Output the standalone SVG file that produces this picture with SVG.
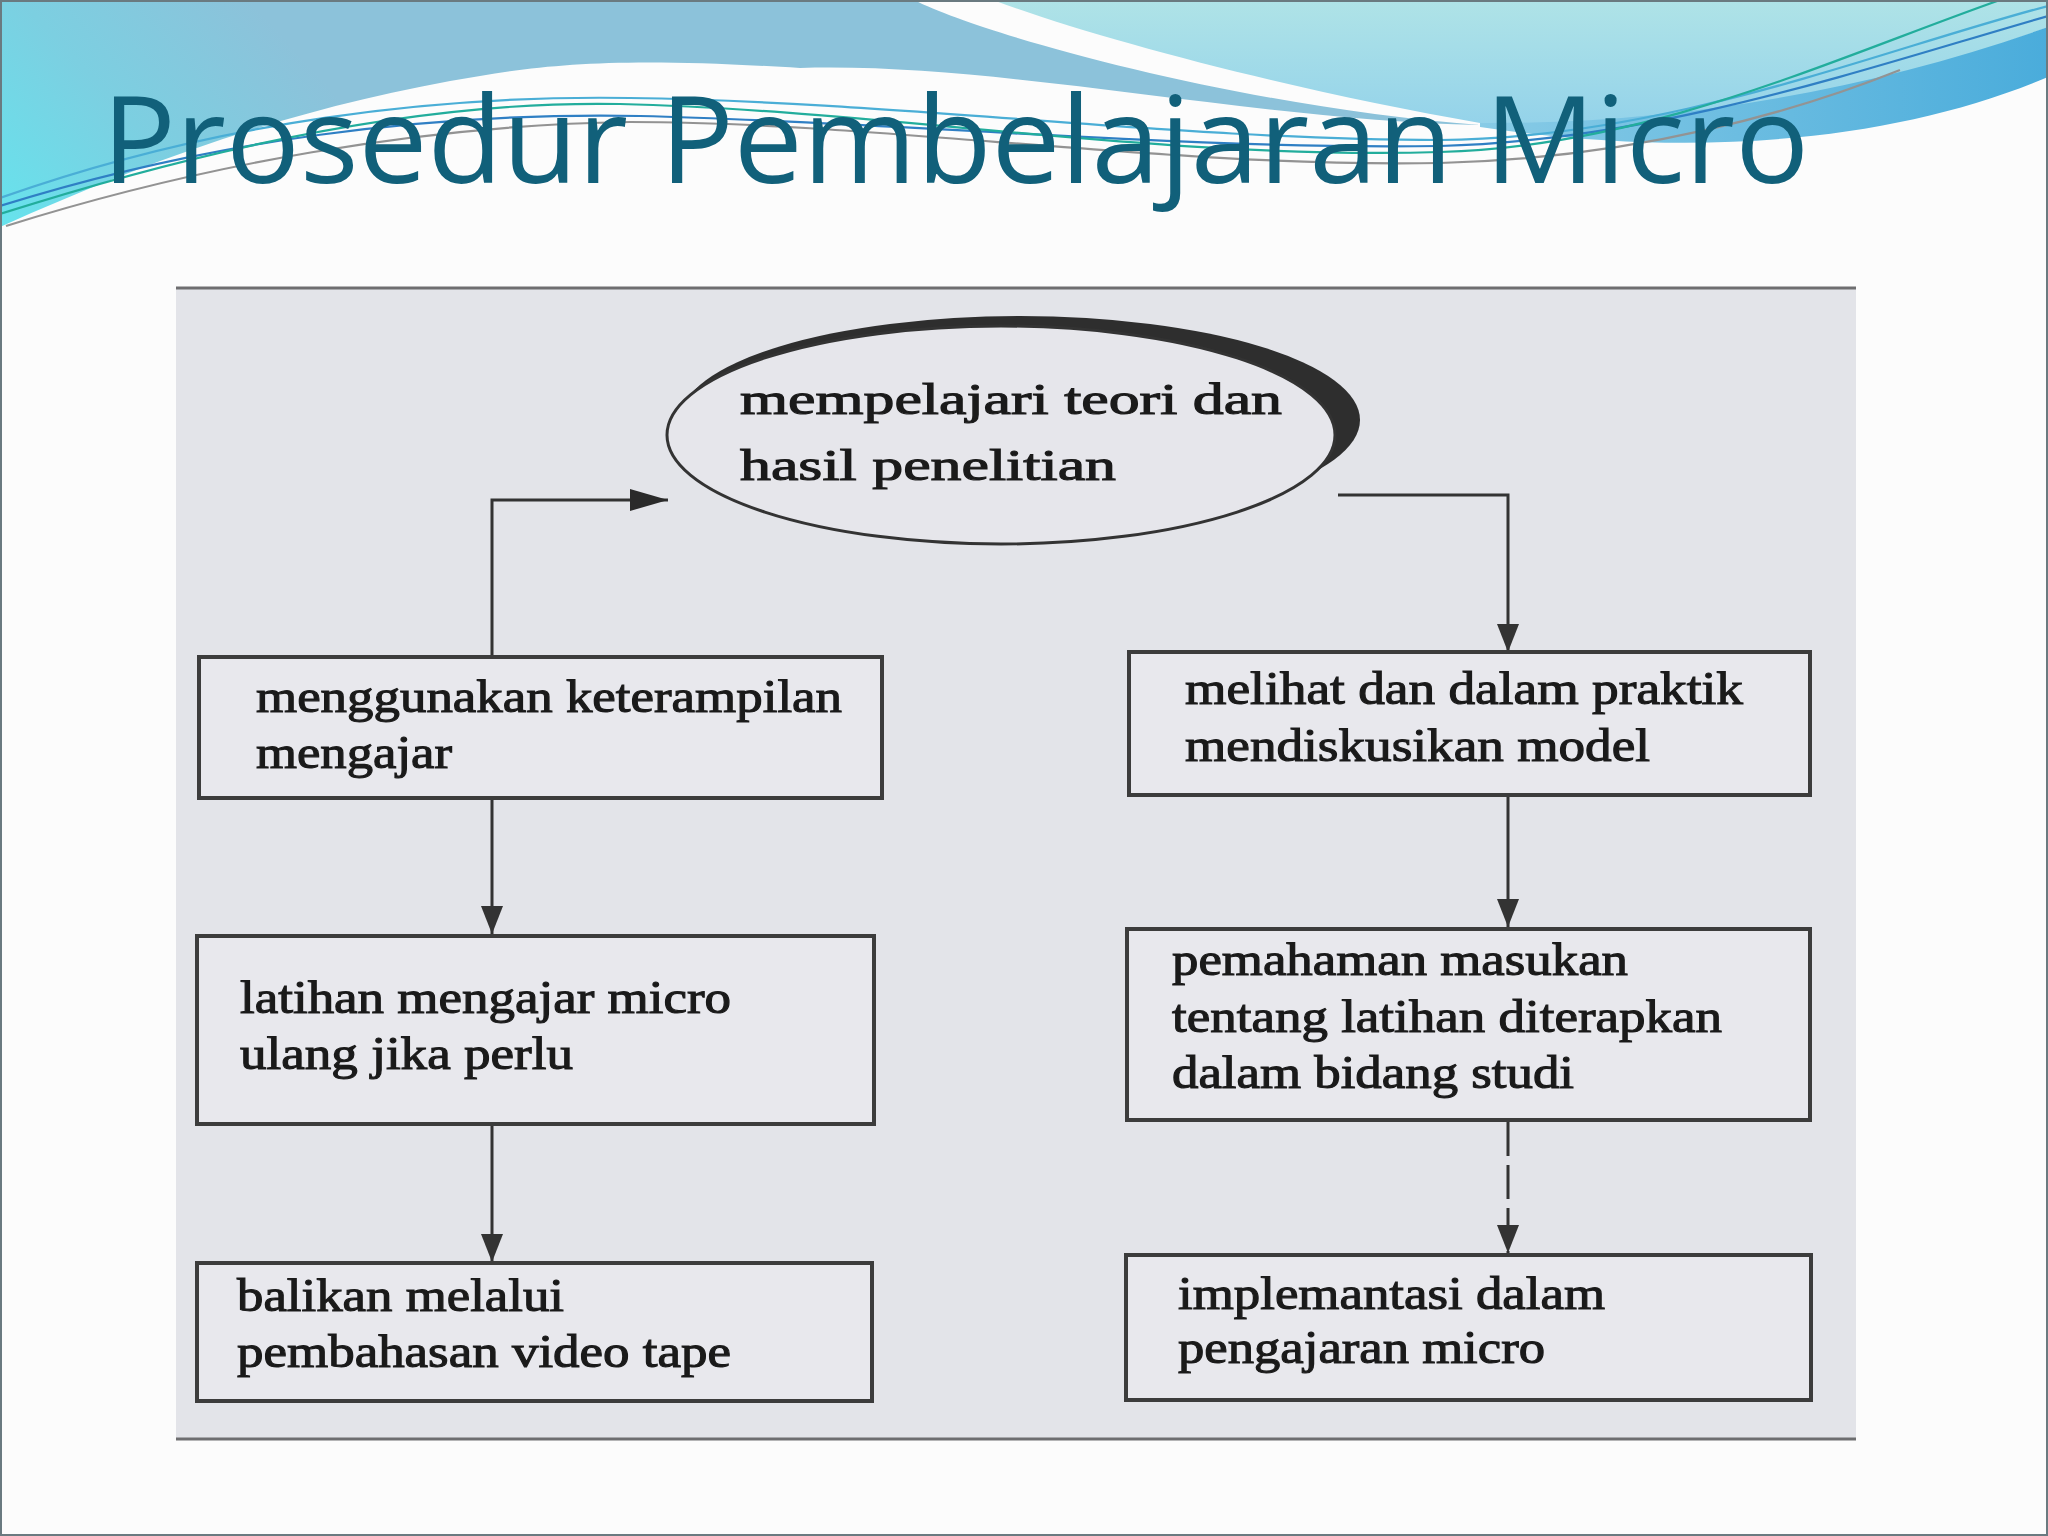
<svg xmlns="http://www.w3.org/2000/svg" width="2048" height="1536" viewBox="0 0 2048 1536">
<defs>
<linearGradient id="gTL" gradientUnits="userSpaceOnUse" x1="250" y1="0" x2="0" y2="228">
<stop offset="0" stop-color="#8cc2da"/>
<stop offset="0.5" stop-color="#7ccfe1"/>
<stop offset="1" stop-color="#66e3ed"/>
</linearGradient>
<linearGradient id="gCy" gradientUnits="userSpaceOnUse" x1="0" y1="0" x2="0" y2="130">
<stop offset="0" stop-color="#afe3e7"/>
<stop offset="1" stop-color="#93d2ea"/>
</linearGradient>
<linearGradient id="gBand" gradientUnits="userSpaceOnUse" x1="1480" y1="0" x2="2048" y2="0">
<stop offset="0" stop-color="#88cbe6"/>
<stop offset="1" stop-color="#4aacdb"/>
</linearGradient>
<marker id="arrV" viewBox="0 0 28 22" refX="28" refY="11" markerWidth="28" markerHeight="22" markerUnits="userSpaceOnUse" orient="auto">
<path d="M0,0 L28,11 L0,22 Z" fill="#333"/>
</marker>
<marker id="arrH" viewBox="0 0 38 22" refX="38" refY="11" markerWidth="38" markerHeight="22" markerUnits="userSpaceOnUse" orient="auto">
<path d="M0,0 L38,11 L0,22 Z" fill="#2a2a2a"/>
</marker>
</defs>
<style>
.box{fill:#e8e8ed;stroke:#3c3c3c;stroke-width:4}
.lbl{font-family:"Liberation Serif","Times New Roman",serif;font-size:46px;fill:#1a1a1a;stroke:#1a1a1a;stroke-width:1.1}
.conn{fill:none;stroke:#333;stroke-width:3}
.wave{fill:none;stroke-width:2.2}
</style>

<rect x="0" y="0" width="2048" height="1536" fill="#fcfcfc"/>

<g id="header">
<path d="M0,0 H914 C990,38 1250,108 1480,125 C1250,120 1000,62 800,68 C640,58 560,62 480,76 C300,105 150,160 0,227 Z" fill="url(#gTL)"/>
<path d="M993,0 H2048 V27 C1880,90 1700,128 1480,123 C1300,92 1100,40 993,0 Z" fill="url(#gCy)"/>
<path d="M1480,123 C1680,124 1870,90 2048,27 V77 C1900,140 1700,160 1480,127 Z" fill="url(#gBand)"/>
<path class="wave" stroke="#4aaed6" d="M0,198 C220,120 440,95 630,98 C900,102 1180,140 1440,140 C1670,138 1880,50 2048,6"/>
<path class="wave" stroke="#2f7fc4" d="M0,206 C210,140 430,112 640,116 C900,122 1180,150 1440,146 C1660,140 1860,70 2048,16"/>
<path class="wave" stroke="#22ad9c" d="M0,214 C200,150 420,100 620,104 C880,110 1160,160 1440,152 C1650,146 1830,60 2000,0"/>
<path class="wave" stroke="#939393" d="M6,226 C200,165 420,125 630,122 C880,122 1170,168 1440,163 C1640,158 1800,110 1900,70"/>
<text x="102" y="183" font-family="'Open Sans','Noto Sans','DejaVu Sans',sans-serif" font-size="120" fill="#11607a" textLength="1707" lengthAdjust="spacingAndGlyphs">Prosedur Pembelajaran Micro</text>
</g>

<g id="panel">
<rect x="176" y="287" width="1680" height="1152" fill="#e3e4e9"/>
<line x1="176" y1="288" x2="1856" y2="288" stroke="#6e6e70" stroke-width="3"/>
<line x1="176" y1="1439" x2="1856" y2="1439" stroke="#6e6e70" stroke-width="3"/>
</g>

<g id="connectors">
<path class="conn" d="M492,655 V500 H668" marker-end="url(#arrH)"/>
<path class="conn" d="M1338,495 H1508 V652" stroke-width="3.5" marker-end="url(#arrV)"/>
<path class="conn" d="M492,800 V934" marker-end="url(#arrV)"/>
<path class="conn" d="M492,1126 V1262" marker-end="url(#arrV)"/>
<path class="conn" d="M1508,797 V927" marker-end="url(#arrV)"/>
<path class="conn" d="M1508,1122 V1253" stroke-dasharray="34 9" marker-end="url(#arrV)"/>
</g>

<g id="n0">
<ellipse cx="1020" cy="420" rx="340" ry="104" fill="#2e2e2e"/>
<ellipse cx="1001" cy="435" rx="334" ry="109" fill="#e6e6eb" stroke="#333" stroke-width="3"/>
<text class="lbl" style="font-size:44px" x="740" y="414" textLength="542" lengthAdjust="spacingAndGlyphs">mempelajari teori dan</text>
<text class="lbl" style="font-size:44px" x="740" y="480" textLength="376" lengthAdjust="spacingAndGlyphs">hasil penelitian</text>
</g>

<g id="n1">
<rect class="box" x="199" y="657" width="683" height="141"/>
<text class="lbl" x="256" y="712" textLength="586" lengthAdjust="spacingAndGlyphs">menggunakan keterampilan</text>
<text class="lbl" x="256" y="768" textLength="196" lengthAdjust="spacingAndGlyphs">mengajar</text>
</g>

<g id="n2">
<rect class="box" x="197" y="936" width="677" height="188"/>
<text class="lbl" x="240" y="1013" textLength="491" lengthAdjust="spacingAndGlyphs">latihan mengajar micro</text>
<text class="lbl" x="240" y="1069" textLength="333" lengthAdjust="spacingAndGlyphs">ulang jika perlu</text>
</g>

<g id="n3">
<rect class="box" x="197" y="1263" width="675" height="138"/>
<text class="lbl" x="237" y="1311" textLength="327" lengthAdjust="spacingAndGlyphs">balikan melalui</text>
<text class="lbl" x="237" y="1367" textLength="494" lengthAdjust="spacingAndGlyphs">pembahasan video tape</text>
</g>

<g id="n4">
<rect class="box" x="1129" y="652" width="681" height="143"/>
<text class="lbl" x="1185" y="704" textLength="558" lengthAdjust="spacingAndGlyphs">melihat dan dalam praktik</text>
<text class="lbl" x="1185" y="761" textLength="465" lengthAdjust="spacingAndGlyphs">mendiskusikan model</text>
</g>

<g id="n5">
<rect class="box" x="1127" y="929" width="683" height="191"/>
<text class="lbl" x="1172" y="975" textLength="456" lengthAdjust="spacingAndGlyphs">pemahaman masukan</text>
<text class="lbl" x="1172" y="1032" textLength="550" lengthAdjust="spacingAndGlyphs">tentang latihan diterapkan</text>
<text class="lbl" x="1172" y="1088" textLength="402" lengthAdjust="spacingAndGlyphs">dalam bidang studi</text>
</g>

<g id="n6">
<rect class="box" x="1126" y="1255" width="685" height="145"/>
<text class="lbl" x="1178" y="1309" textLength="427" lengthAdjust="spacingAndGlyphs">implemantasi dalam</text>
<text class="lbl" x="1178" y="1363" textLength="367" lengthAdjust="spacingAndGlyphs">pengajaran micro</text>
</g>

<rect x="1" y="1" width="2046" height="1534" fill="none" stroke="#6a7a80" stroke-width="2"/>
</svg>
